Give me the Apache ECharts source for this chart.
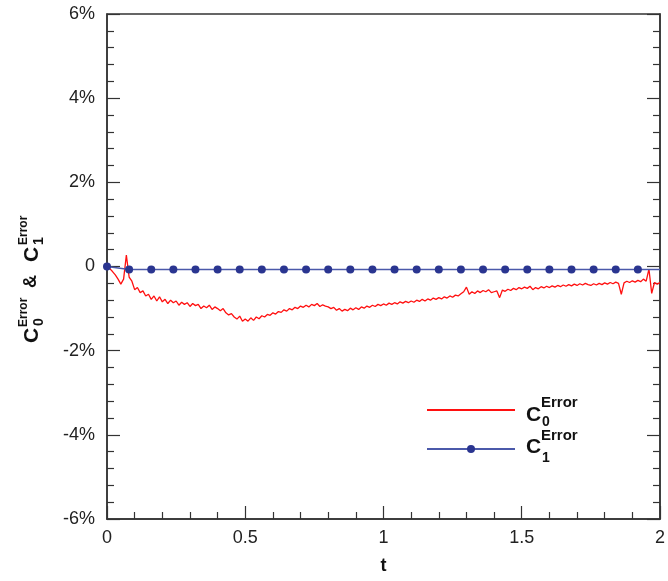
<!DOCTYPE html>
<html>
<head>
<meta charset="utf-8">
<title>Error vs t</title>
<script src="https://cdn.jsdelivr.net/npm/echarts@6/dist/echarts.min.js"></script>
<style>
  html, body { margin: 0; padding: 0; background: #fff; }
  #chart { width: 668px; height: 581px; }
</style>
</head>
<body>
<div id="chart"></div>
<script>
// x axis
const tMin = 0
const tMax = 2
const tTicks = [0, 0.5, 1, 1.5, 2]
// y axis, in percent
const yTicks = [-6, -4, -2, 0, 2, 4, 6]

const c0Step = 0.01
const c0Values = [
  0, -0.05, -0.12, -0.2, -0.3, -0.42, -0.3, 0.27, -0.25, -0.35,
  -0.55, -0.5, -0.62, -0.58, -0.7, -0.66, -0.78, -0.7, -0.82, -0.72,
  -0.84, -0.78, -0.88, -0.8, -0.86, -0.82, -0.92, -0.85, -0.9, -0.86,
  -0.95, -0.88, -0.93, -0.9, -1.0, -0.94, -0.98, -0.92, -1.02, -0.96,
  -1.0, -1.05, -1.0, -1.1, -1.15, -1.12, -1.2, -1.25, -1.18, -1.3,
  -1.25, -1.3, -1.22, -1.28, -1.2, -1.24, -1.17, -1.2, -1.14, -1.16,
  -1.1, -1.13, -1.07, -1.09, -1.03, -1.06, -1.0, -1.03, -0.97, -1.0,
  -0.94, -0.97, -0.92, -0.96, -0.9, -0.93, -0.88, -0.95, -0.91, -0.94,
  -0.96, -1.0, -0.97, -1.04, -1.0, -1.06, -1.02, -1.05, -0.99, -1.03,
  -0.98, -1.02, -0.96, -0.99, -0.94, -0.97, -0.92, -0.95, -0.9, -0.93,
  -0.89, -0.92, -0.87, -0.9, -0.86, -0.89, -0.84, -0.87, -0.83, -0.86,
  -0.82, -0.85, -0.8, -0.83, -0.78, -0.82, -0.77, -0.8, -0.75, -0.78,
  -0.74, -0.77, -0.72, -0.75, -0.7, -0.73, -0.68, -0.7, -0.65, -0.6,
  -0.49, -0.66, -0.6, -0.64, -0.58, -0.62, -0.57, -0.6, -0.55, -0.62,
  -0.6, -0.58, -0.74, -0.56, -0.59, -0.54, -0.57, -0.52, -0.55, -0.5,
  -0.53, -0.49, -0.52, -0.47, -0.55, -0.5, -0.53, -0.48, -0.51, -0.47,
  -0.5, -0.46, -0.49, -0.45, -0.48, -0.44, -0.47, -0.43, -0.46, -0.42,
  -0.45, -0.41, -0.44, -0.4, -0.43, -0.45, -0.41, -0.44, -0.4, -0.43,
  -0.39, -0.42, -0.38, -0.41, -0.37, -0.4, -0.66, -0.39, -0.35, -0.38,
  -0.34, -0.37, -0.33, -0.36, -0.3, -0.35, -0.06, -0.64, -0.38, -0.42,
  -0.38
]

// C1 error, marked points
const c1T = [0, 0.08, 0.16, 0.24, 0.32, 0.4, 0.48, 0.56, 0.64, 0.72, 0.8, 0.88, 0.96,
  1.04, 1.12, 1.2, 1.28, 1.36, 1.44, 1.52, 1.6, 1.68, 1.76, 1.84, 1.92, 2]
const c1Values = [0, -0.07, -0.07, -0.07, -0.07, -0.07, -0.07, -0.07, -0.07, -0.07, -0.07, -0.07, -0.07,
  -0.07, -0.07, -0.07, -0.07, -0.07, -0.07, -0.07, -0.07, -0.07, -0.07, -0.07, -0.07, -0.07]

const c0Data = c0Values.map((v, i) => [+(i * c0Step).toFixed(2), v])
const c1Data = c1T.map((t, i) => {
  const item = { value: [t, c1Values[i]] }
  if (t === tMax) item.symbol = 'none'   // line runs to the frame, no dot there
  return item
})

const font = 'Liberation Sans, Arial, Helvetica, sans-serif'
const axisColor = '#333'
const ink = '#111'

const chart = echarts.init(document.getElementById('chart'))

const yAxisBase = {
  type: 'value',
  min: yTicks[0],
  max: yTicks[yTicks.length - 1],
  interval: 2,
  axisLine: { show: true, lineStyle: { color: axisColor, width: 1.5 } },
  axisTick: { show: true, inside: true, length: 13, lineStyle: { color: axisColor, width: 1.2 } },
  minorTick: { show: true, splitNumber: 5, length: 7, lineStyle: { color: axisColor, width: 1.2 } },
  splitLine: { show: false }
}

function txt(x, y, text, size) {
  return { type: 'text', x: x, y: y, style: { text: text, font: 'bold ' + size + 'px ' + font, fill: ink, verticalAlign: 'middle' } }
}

const option = {
  animation: false,
  textStyle: { fontFamily: font },
  grid: { left: 107, right: 8, top: 14, bottom: 62, show: true, borderColor: axisColor, borderWidth: 1.5 },
  xAxis: [
    {
      type: 'value',
      min: tMin,
      max: tMax,
      interval: 0.5,
      name: 't',
      nameLocation: 'middle',
      nameGap: 38,
      nameTextStyle: { fontSize: 18, fontWeight: 'bold', color: ink },
      axisLine: { show: true, onZero: false, lineStyle: { color: axisColor, width: 1.5 } },
      axisTick: { show: true, inside: true, length: 13, lineStyle: { color: axisColor, width: 1.2 } },
      minorTick: { show: true, splitNumber: 5, length: 7, lineStyle: { color: axisColor, width: 1.2 } },
      axisLabel: { fontSize: 18, color: '#222', margin: 10, formatter: v => String(v) },
      splitLine: { show: false }
    }
  ],
  yAxis: [
    Object.assign({}, yAxisBase, {
      position: 'left',
      axisLabel: { fontSize: 18, color: '#222', margin: 12, formatter: v => v === 0 ? '0' : v + '%' }
    }),
    Object.assign({}, yAxisBase, {
      position: 'right',
      axisLabel: { show: false }
    })
  ],
  legend: {
    orient: 'vertical',
    left: 426,
    top: 405,
    padding: 0,
    itemWidth: 88,
    itemHeight: 10,
    itemGap: 30,
    formatter: () => '',
    selectedMode: false,
    data: [
      { name: 'C0', itemStyle: { opacity: 0 } },
      { name: 'C1' }
    ]
  },
  series: [
    {
      name: 'C0',
      type: 'line',
      data: c0Data,
      showSymbol: false,
      symbol: 'none',
      lineStyle: { color: '#ff1010', width: 1.3 },
      itemStyle: { color: '#ff1010' },
      z: 2
    },
    {
      name: 'C1',
      type: 'line',
      data: c1Data,
      symbol: 'circle',
      symbolSize: 8,
      lineStyle: { color: '#4b59aa', width: 1.5 },
      itemStyle: { color: '#2a3590' },
      z: 3
    }
  ],
  graphic: [
    // legend labels
    txt(526, 415, 'C', 21), txt(541, 403, 'Error', 15), txt(542, 422, '0', 14),
    txt(526, 447, 'C', 21), txt(541, 436, 'Error', 15), txt(542, 458, '1', 14),
    // rotated y axis title, reads bottom to top
    {
      type: 'group',
      x: 30,
      y: 266,
      rotation: Math.PI / 2,
      children: [
        txt(-77, 2, 'C', 21), txt(-61, -6, 'Error', 12), txt(-60, 9, '0', 14),
        txt(-22, 1, '&', 18),
        txt(4, 2, 'C', 21), txt(21, -6, 'Error', 12), txt(21, 9, '1', 14)
      ]
    }
  ]
}

chart.setOption(option)
</script>
</body>
</html>
